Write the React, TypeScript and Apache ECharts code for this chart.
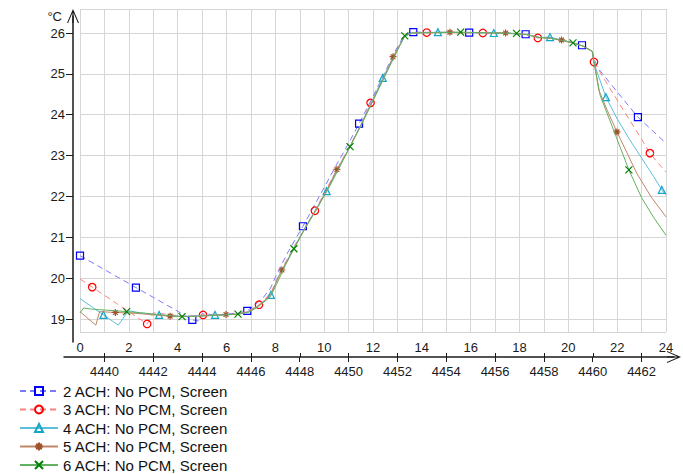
import React, { useEffect, useRef } from 'react';
import * as echarts from 'echarts';

// ---------- data ----------
const seriesNames = [
  '2 ACH: No PCM, Screen',
  '3 ACH: No PCM, Screen',
  '4 ACH: No PCM, Screen',
  '5 ACH: No PCM, Screen',
  '6 ACH: No PCM, Screen',
];

const ach2Hours = [0, 1, 2, 2.29, 3, 4, 4.6, 4.85, 5.0, 5.5, 6.0, 6.5, 6.85, 7.2, 7.5, 7.8, 8.0, 8.5, 9.13, 9.5, 10.0, 10.5, 11.0, 11.43, 12.0, 12.5, 12.9, 13.3, 13.65, 15.94, 17.5, 18.25, 18.8, 19.3, 19.75, 20.2, 20.56, 20.98, 21.05, 21.2, 22.0, 22.85, 23.5, 24];
const ach2Temps = [20.55, 20.21, 19.87, 19.77, 19.53, 19.19, 18.98, 18.95, 19.13, 19.1, 19.12, 19.15, 19.2, 19.36, 19.52, 19.75, 20.02, 20.62, 21.27, 21.67, 22.22, 22.77, 23.3, 23.78, 24.45, 25.05, 25.55, 25.97, 26.02, 26.01, 26.0, 25.97, 25.89, 25.88, 25.82, 25.76, 25.7, 25.55, 25.38, 25.15, 24.56, 23.94, 23.58, 23.3];
const ach2Marks = [0, 2.29, 4.6, 6.85, 9.13, 11.43, 13.65, 15.94, 18.25, 20.56, 22.85];

const ach3Hours = [0, 0.5, 1, 1.5, 2, 2.5, 2.75, 3.0, 3.5, 4.0, 4.5, 5.04, 5.5, 6.0, 6.5, 6.9, 7.33, 7.6, 7.85, 8.1, 8.5, 9.0, 9.62, 10.0, 10.5, 11.0, 11.5, 11.9, 12.5, 12.9, 13.3, 13.6, 14.2, 16.5, 17.5, 18.3, 18.75, 19.3, 19.75, 20.2, 20.6, 20.98, 21.05, 21.5, 22.0, 22.5, 23.0, 23.34, 23.7, 24];
const ach3Temps = [19.98, 19.78, 19.58, 19.38, 19.18, 18.98, 18.88, 19.15, 19.12, 19.08, 19.06, 19.1, 19.1, 19.1, 19.13, 19.2, 19.35, 19.5, 19.68, 20.03, 20.48, 21.02, 21.65, 22.08, 22.63, 23.18, 23.75, 24.29, 24.98, 25.48, 25.93, 26.0, 26.01, 26.0, 25.99, 25.96, 25.88, 25.87, 25.81, 25.75, 25.68, 25.55, 25.29, 24.84, 24.36, 23.88, 23.4, 23.06, 22.8, 22.6];
const ach3Marks = [0.5, 2.75, 5.04, 7.33, 9.62, 11.9, 14.2, 16.5, 18.75, 21.05, 23.34];

const ach4Hours = [0, 0.96, 1.57, 1.98, 2.5, 3.24, 4.0, 4.5, 5.0, 5.53, 6.0, 6.5, 6.9, 7.3, 7.82, 8.1, 8.5, 9.0, 9.5, 10.1, 10.5, 11.0, 11.5, 12.0, 12.4, 12.9, 13.3, 13.6, 14.66, 16.95, 17.5, 18.3, 18.8, 19.25, 19.75, 20.2, 20.6, 20.98, 21.05, 21.54, 22.0, 22.5, 23.0, 23.5, 23.83, 24];
const ach4Temps = [19.5, 19.1, 18.85, 19.2, 19.15, 19.1, 19.07, 19.06, 19.08, 19.1, 19.1, 19.12, 19.18, 19.32, 19.59, 20.0, 20.45, 21.0, 21.52, 22.13, 22.6, 23.15, 23.75, 24.38, 24.9, 25.48, 25.93, 26.0, 26.02, 26.0, 25.99, 25.96, 25.89, 25.9, 25.82, 25.76, 25.68, 25.55, 25.26, 24.43, 23.9, 23.4, 22.94, 22.48, 22.16, 22.03];
const ach4Marks = [0.96, 3.24, 5.53, 7.82, 10.1, 12.4, 14.66, 16.95, 19.25, 21.54, 23.83];

const ach5Hours = [0, 0.65, 0.8, 1.45, 2.0, 2.5, 3.0, 3.69, 4.2, 4.8, 5.3, 5.98, 6.5, 6.9, 7.3, 7.8, 8.0, 8.27, 8.7, 9.2, 9.7, 10.1, 10.52, 11.0, 11.5, 12.0, 12.5, 12.82, 13.3, 13.6, 15.15, 17.43, 18.3, 18.8, 19.3, 19.72, 20.2, 20.6, 20.98, 21.05, 21.25, 21.6, 21.99, 22.4, 22.8, 23.4, 24];
const ach5Temps = [19.18, 18.85, 19.18, 19.16, 19.15, 19.13, 19.1, 19.07, 19.06, 19.07, 19.09, 19.11, 19.12, 19.18, 19.32, 19.58, 19.85, 20.2, 20.65, 21.2, 21.7, 22.15, 22.66, 23.15, 23.74, 24.36, 24.98, 25.42, 25.92, 26.0, 26.02, 26.0, 25.96, 25.89, 25.87, 25.83, 25.76, 25.68, 25.55, 25.3, 24.6, 24.1, 23.58, 23.07, 22.57, 21.98, 21.5];
const ach5Marks = [1.45, 3.69, 5.98, 8.27, 10.52, 12.82, 15.15, 17.43, 19.72, 21.99];

const ach6Hours = [0, 0.15, 0.5, 1.0, 1.5, 1.91, 2.5, 3.0, 3.5, 4.18, 4.8, 5.3, 5.9, 6.47, 6.9, 7.3, 7.8, 8.05, 8.4, 8.76, 9.2, 9.7, 10.2, 10.6, 11.06, 11.5, 12.0, 12.5, 12.9, 13.3, 13.6, 15.59, 17.88, 18.3, 18.8, 19.3, 19.75, 20.19, 20.6, 20.98, 21.05, 21.3, 21.9, 22.48, 23.0, 23.5, 24];
const ach6Temps = [19.15, 19.27, 19.24, 19.22, 19.2, 19.18, 19.15, 19.12, 19.09, 19.06, 19.07, 19.08, 19.1, 19.12, 19.16, 19.3, 19.55, 19.85, 20.3, 20.72, 21.2, 21.7, 22.22, 22.68, 23.22, 23.72, 24.34, 24.96, 25.45, 25.93, 26.0, 26.02, 25.99, 25.96, 25.89, 25.87, 25.82, 25.76, 25.68, 25.55, 25.3, 24.48, 23.55, 22.65, 21.97, 21.48, 21.05];
const ach6Marks = [1.91, 4.18, 6.47, 8.76, 11.06, 13.3, 15.59, 17.88, 20.19, 22.48];

const elapsedTickLabels = [0, 2, 4, 6, 8, 10, 12, 14, 16, 18, 20, 22, 24];
const elapsedMinorTicks = [1, 3, 5, 7, 9, 11, 13, 15, 17, 19, 21, 23];
const yearHourTickLabels = [4440, 4442, 4444, 4446, 4448, 4450, 4452, 4454, 4456, 4458, 4460, 4462];
const tempTickLabels = [19, 20, 21, 22, 23, 24, 25, 26];
const HOUR_OFFSET = 4439;

// ---------- layout ----------
const PLOT_LEFT = 80;
const PLOT_RIGHT = 666;
const PLOT_TOP = 9;
const PLOT_BOTTOM = 332;
const T_MIN = 18.682;
const T_MAX = 26.5875;
const H_MIN = 0;
const H_MAX = 24;
const XAXIS_Y = 357;
const XLINE_LEFT = 64;
const XLINE_RIGHT = 674;
const YAXIS_X = 73;
const YLINE_TOP = 16;
const YLINE_BOTTOM = 342;

const pxPerHour = (PLOT_RIGHT - PLOT_LEFT) / (H_MAX - H_MIN);
const pxPerDeg = (PLOT_BOTTOM - PLOT_TOP) / (T_MAX - T_MIN);
const xDispMin = H_MIN + (XLINE_LEFT - PLOT_LEFT) / pxPerHour;
const xDispMax = H_MIN + (XLINE_RIGHT - PLOT_LEFT) / pxPerHour;
const yDispMax = T_MAX - (YLINE_TOP - PLOT_TOP) / pxPerDeg;
const yDispMin = T_MIN - (YLINE_BOTTOM - PLOT_BOTTOM) / pxPerDeg;

const FONT = '"Liberation Sans", Arial, sans-serif';
const AXIS_COLOR = '#1a1a1a';
const GRID_COLOR = '#d6d6d6';
const CHEVRON = 'path://M0,14L6,0L12,14L10.9,14L6,2.6L1.1,14Z M5.4,1.5L6.6,1.5L6.6,14L5.4,14Z';

const SYM_X = 'path://M0,0L10,10M10,0L0,10';
const SYM_STAR = 'path://M5,0L5,10M0,5L10,5M1.6,1.6L8.4,8.4M8.4,1.6L1.6,8.4';

const styles = [
  { line: '#7a7aff', mark: '#0000ff', symbol: 'rect', size: 7, dashed: true },
  { line: '#ff8080', mark: '#ff0000', symbol: 'circle', size: 7.5, dashed: true },
  { line: '#5bbfdc', mark: '#14a5c8', symbol: 'triangle', size: 7, dashed: false },
  { line: '#c0866a', mark: '#a0522d', symbol: SYM_STAR, size: 7, dashed: false },
  { line: '#62b062', mark: '#008000', symbol: SYM_X, size: 7, dashed: false },
];

function buildData(hours: number[], temps: number[], marks: number[], size: number) {
  return hours.map((h, i) => ({
    value: [h, temps[i]],
    symbolSize: marks.includes(h) ? size : 0,
  }));
}

const seriesData = [
  buildData(ach2Hours, ach2Temps, ach2Marks, styles[0].size),
  buildData(ach3Hours, ach3Temps, ach3Marks, styles[1].size),
  buildData(ach4Hours, ach4Temps, ach4Marks, styles[2].size),
  buildData(ach5Hours, ach5Temps, ach5Marks, styles[3].size),
  buildData(ach6Hours, ach6Temps, ach6Marks, styles[4].size),
];

const plain = (v: number) => String(Math.round(v));

function buildOption(): any {
  return {
    animation: false,
    backgroundColor: '#ffffff',
    textStyle: { fontFamily: FONT },
    grid: [
      {
        left: PLOT_LEFT, top: PLOT_TOP,
        width: PLOT_RIGHT - PLOT_LEFT, height: PLOT_BOTTOM - PLOT_TOP,
        containLabel: false, outerBoundsMode: 'none',
      },
      {
        left: XLINE_LEFT, top: PLOT_TOP,
        width: XLINE_RIGHT - XLINE_LEFT, height: XAXIS_Y - PLOT_TOP,
        containLabel: false, outerBoundsMode: 'none',
      },
      {
        left: YAXIS_X, top: YLINE_TOP,
        width: 100, height: YLINE_BOTTOM - YLINE_TOP,
        containLabel: false, outerBoundsMode: 'none',
      },
    ],
    legend: {
      orient: 'vertical',
      left: 19,
      top: 383.5,
      itemWidth: 38,
      itemHeight: 10,
      itemGap: 3.5,
      padding: 0,
      selectedMode: false,
      textStyle: { fontSize: 15, color: '#111', fontFamily: FONT },
      data: seriesNames,
    },
    xAxis: [
      {
        gridIndex: 0, type: 'value', min: H_MIN, max: H_MAX, interval: 1,
        axisLine: { show: false }, axisTick: { show: false }, axisLabel: { show: false },
        splitLine: { show: true, lineStyle: { color: GRID_COLOR, width: 1 } },
      },
      {
        gridIndex: 1, type: 'value', position: 'bottom', min: xDispMin, max: xDispMax,
        axisLine: {
          show: true, onZero: false, symbol: ['none', CHEVRON], symbolSize: [12, 14],
          lineStyle: { color: AXIS_COLOR, width: 1.5 },
        },
        axisTick: {
          show: true, inside: true, length: 4, customValues: elapsedMinorTicks,
          lineStyle: { color: AXIS_COLOR, width: 1 },
        },
        axisLabel: {
          show: true, inside: true, margin: 3, customValues: elapsedTickLabels,
          formatter: plain,
          color: AXIS_COLOR, fontSize: 13, fontFamily: FONT,
        },
        splitLine: { show: false },
      },
      {
        gridIndex: 1, type: 'value', position: 'bottom', offset: 0,
        min: HOUR_OFFSET + xDispMin, max: HOUR_OFFSET + xDispMax,
        axisLine: { show: false, onZero: false },
        axisTick: {
          show: true, inside: false, length: 5, customValues: yearHourTickLabels,
          lineStyle: { color: AXIS_COLOR, width: 1 },
        },
        axisLabel: {
          show: true, margin: 8, customValues: yearHourTickLabels,
          formatter: plain,
          color: AXIS_COLOR, fontSize: 13, fontFamily: FONT,
        },
        splitLine: { show: false },
      },
      { gridIndex: 2, type: 'value', min: 0, max: 1, show: false },
    ],
    yAxis: [
      {
        gridIndex: 0, type: 'value', min: T_MIN, max: T_MAX, splitNumber: 8,
        axisLine: { show: false }, axisTick: { show: false }, axisLabel: { show: false },
        splitLine: { show: true, lineStyle: { color: GRID_COLOR, width: 1 } },
      },
      { gridIndex: 1, type: 'value', min: 0, max: 1, show: false },
      {
        gridIndex: 2, type: 'value', position: 'left', min: yDispMin, max: yDispMax,
        name: '°C', nameLocation: 'end', nameGap: 0,
        nameTextStyle: {
          align: 'right', verticalAlign: 'middle', padding: [0, 11, 0, 0],
          color: AXIS_COLOR, fontSize: 13, fontFamily: FONT,
        },
        axisLine: {
          show: true, onZero: false, symbol: ['none', CHEVRON], symbolSize: [12, 14],
          lineStyle: { color: AXIS_COLOR, width: 1.5 },
        },
        axisTick: {
          show: true, inside: false, length: 7, customValues: tempTickLabels,
          lineStyle: { color: AXIS_COLOR, width: 1 },
        },
        axisLabel: {
          show: true, margin: 8, customValues: tempTickLabels,
          formatter: plain,
          color: AXIS_COLOR, fontSize: 13, fontFamily: FONT,
        },
        splitLine: { show: false },
      },
    ],
    series: seriesNames.map((name, i) => ({
      name,
      type: 'line',
      xAxisIndex: 0,
      yAxisIndex: 0,
      data: seriesData[i],
      symbol: styles[i].symbol,
      showAllSymbol: true,
      clip: true,
      lineStyle: {
        color: styles[i].line,
        width: 1,
        type: styles[i].dashed ? [6, 4] : 'solid',
      },
      itemStyle: {
        color: 'rgba(0,0,0,0)',
        borderColor: styles[i].mark,
        borderWidth: 1.2,
      },
      emphasis: { disabled: true },
      z: 2 + i,
    })),
  };
}

export default function App() {
  const ref = useRef<HTMLDivElement>(null);
  useEffect(() => {
    document.body.style.margin = '0';
    const chart = echarts.init(ref.current as HTMLDivElement, undefined, { renderer: 'svg' });
    chart.setOption(buildOption());
    return () => chart.dispose();
  }, []);
  return (
    <div
      ref={ref}
      style={{ position: 'absolute', left: 0, top: 0, width: 683, height: 474, background: '#fff' }}
    />
  );
}
